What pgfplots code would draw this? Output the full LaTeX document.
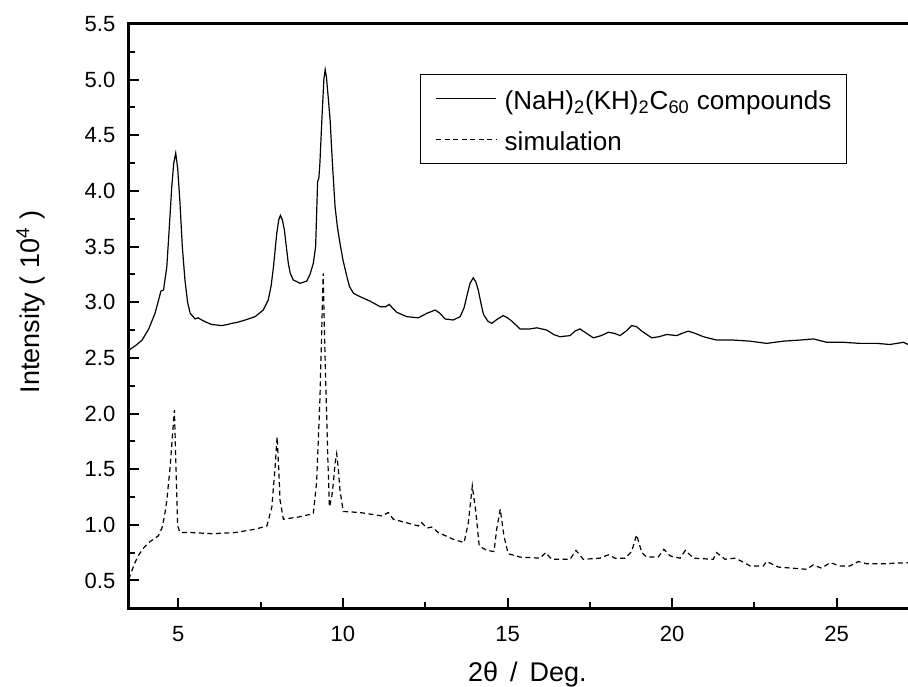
\documentclass[border=0pt]{standalone}
\usepackage{fontspec}
\setmainfont{Liberation Sans}
\usepackage{pgfplots}
\pgfplotsset{compat=1.18}

\begin{document}
\begin{tikzpicture}
\begin{axis}[
  x=16.46pt, y=55.65pt,
  xmin=3.5, xmax=27.3, ymin=0.25, ymax=5.5,
  axis line style={line width=1.5pt},
  xtick={5,10,15,20,25}, minor x tick num=1,
  ytick={0.5,1.0,...,5.5}, minor y tick num=1,
  xtick pos=bottom, ytick pos=left, tick align=inside,
  major tick length=5pt, minor tick length=3pt,
  every tick/.style={black, line width=1pt},
  tick label style={font=\fontsize{11}{13}\selectfont},
  xticklabel style={yshift=-5.6pt},
  yticklabel style={xshift=-3.3pt},
  /pgf/number format/assume math mode=true,
  yticklabel style={/pgf/number format/.cd, fixed, fixed zerofill, precision=1},
  xlabel={2θ\ \,/\ \,Deg.},
  ylabel={Intensity ( 10\textsuperscript{4} )},
  label style={font=\fontsize{13.5}{16}\selectfont},
  xlabel style={at={(axis description cs:0.5086,-0.1249)}, anchor=base},
  ylabel style={at={(axis description cs:-0.1251,0.524)}, anchor=center},
  legend cell align=left,
  legend image code/.code={\draw[#1] (0pt,0pt) -- (30pt,0pt);},
  legend style={at={(axis description cs:0.3714,0.9139)}, anchor=north west,
    draw=black, line width=0.6pt, fill=white, inner xsep=7.5pt, inner ysep=3.15pt,
    row sep=3.85pt, font=\fontsize{13}{15}\selectfont,
    nodes={inner sep=0pt, text height=14pt, text depth=3pt},
    /tikz/every odd column/.append style={column sep=4pt}},
]
\addplot[black, line width=0.6pt] coordinates {
(3.50,2.57) (3.70,2.61) (3.90,2.66) (4.10,2.76) (4.29,2.90) (4.40,3.02) (4.47,3.10) (4.55,3.11) (4.65,3.32) (4.72,3.65) (4.80,4.04) (4.86,4.25) (4.92,4.34) (4.98,4.20) (5.05,3.89) (5.12,3.50) (5.20,3.20) (5.28,3.00) (5.36,2.90) (5.51,2.85) (5.60,2.86) (5.71,2.84) (5.85,2.82) (6.01,2.80) (6.32,2.79) (6.50,2.80) (6.62,2.81) (6.80,2.82) (7.03,2.84) (7.33,2.87) (7.58,2.93) (7.73,3.02) (7.82,3.15) (7.89,3.32) (7.99,3.62) (8.05,3.74) (8.10,3.78) (8.16,3.74) (8.22,3.65) (8.28,3.50) (8.34,3.35) (8.40,3.26) (8.49,3.20) (8.70,3.17) (8.90,3.19) (9.00,3.25) (9.10,3.35) (9.17,3.50) (9.23,4.08) (9.27,4.12) (9.30,4.25) (9.36,4.64) (9.42,5.00) (9.46,5.09) (9.50,5.02) (9.55,4.85) (9.61,4.64) (9.68,4.25) (9.76,3.86) (9.83,3.68) (9.91,3.53) (10.00,3.38) (10.12,3.23) (10.20,3.14) (10.32,3.08) (10.52,3.05) (10.82,3.01) (11.13,2.96) (11.30,2.96) (11.41,2.98) (11.50,2.95) (11.63,2.91) (11.94,2.87) (12.29,2.86) (12.55,2.90) (12.80,2.93) (12.95,2.90) (13.10,2.85) (13.35,2.84) (13.56,2.87) (13.68,2.95) (13.76,3.05) (13.86,3.17) (13.96,3.22) (14.04,3.18) (14.11,3.11) (14.20,2.98) (14.27,2.89) (14.40,2.83) (14.52,2.81) (14.70,2.85) (14.87,2.88) (15.00,2.86) (15.13,2.83) (15.38,2.76) (15.68,2.76) (15.89,2.77) (16.19,2.75) (16.40,2.71) (16.59,2.69) (16.90,2.70) (17.05,2.74) (17.20,2.76) (17.40,2.72) (17.61,2.68) (17.85,2.70) (18.06,2.73) (18.25,2.72) (18.42,2.70) (18.60,2.74) (18.77,2.79) (18.92,2.78) (19.08,2.74) (19.38,2.68) (19.60,2.69) (19.84,2.71) (20.14,2.70) (20.30,2.72) (20.49,2.74) (20.70,2.72) (20.95,2.69) (21.35,2.66) (21.86,2.66) (22.37,2.65) (22.87,2.63) (23.38,2.65) (23.89,2.66) (24.29,2.67) (24.70,2.64) (25.20,2.64) (25.71,2.63) (26.22,2.63) (26.62,2.62) (27.03,2.64) (27.17,2.62)
};
\addlegendentry{(NaH)\textsubscript{2}(KH)\textsubscript{2}C\textsubscript{60} compounds}
\addplot[black, line width=0.6pt, dash pattern=on 2.5pt off 1.75pt] coordinates {
(3.50,0.51) (3.54,0.55) (3.68,0.66) (3.80,0.73) (3.94,0.79) (4.10,0.84) (4.24,0.87) (4.39,0.90) (4.50,0.97) (4.58,1.08) (4.65,1.22) (4.75,1.52) (4.82,1.80) (4.88,2.03) (4.93,1.50) (4.98,0.99) (5.05,0.93) (5.41,0.93) (6.01,0.92) (6.72,0.93) (7.33,0.96) (7.69,0.99) (7.84,1.16) (7.94,1.52) (8.00,1.79) (8.05,1.50) (8.09,1.22) (8.19,1.05) (8.65,1.07) (9.10,1.10) (9.20,1.38) (9.30,2.12) (9.36,2.80) (9.40,3.26) (9.44,2.70) (9.49,2.15) (9.54,1.60) (9.59,1.16) (9.66,1.25) (9.71,1.38) (9.76,1.55) (9.81,1.64) (9.86,1.50) (9.91,1.31) (10.01,1.12) (10.52,1.11) (11.18,1.08) (11.38,1.11) (11.53,1.05) (12.29,0.99) (12.39,1.02) (12.55,0.97) (12.70,0.98) (12.90,0.93) (13.35,0.87) (13.68,0.84) (13.81,1.02) (13.93,1.35) (14.04,1.11) (14.14,0.81) (14.37,0.77) (14.59,0.76) (14.67,0.96) (14.78,1.14) (14.89,0.90) (15.02,0.74) (15.38,0.71) (15.99,0.70) (16.16,0.75) (16.34,0.69) (16.90,0.69) (17.08,0.77) (17.30,0.69) (17.81,0.70) (18.06,0.73) (18.27,0.70) (18.57,0.70) (18.77,0.76) (18.92,0.91) (19.08,0.75) (19.23,0.71) (19.58,0.71) (19.75,0.78) (19.94,0.72) (20.24,0.70) (20.40,0.77) (20.65,0.70) (21.25,0.69) (21.35,0.75) (21.61,0.69) (21.90,0.70) (22.06,0.68) (22.37,0.63) (22.77,0.63) (22.87,0.67) (23.23,0.62) (24.09,0.60) (24.29,0.64) (24.54,0.61) (24.80,0.66) (25.10,0.63) (25.40,0.63) (25.66,0.67) (25.91,0.65) (26.42,0.65) (27.17,0.66)
};
\addlegendentry{simulation}
\coordinate (bbsw) at (axis cs:3.5,0.25);
\coordinate (bbne) at (axis cs:27.166,5.5);
\end{axis}
\pgfresetboundingbox
\path ([shift={(-64.5pt,-39pt)}]bbsw) rectangle ([shift={(0pt,12pt)}]bbne);
\end{tikzpicture}
\end{document}
